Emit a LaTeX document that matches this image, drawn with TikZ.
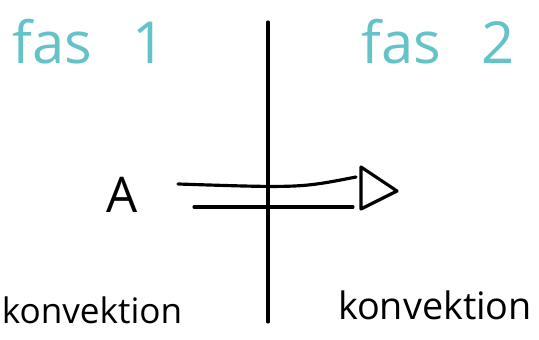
\documentclass[tikz,border=0pt]{standalone}
\usepackage{fontspec}
\setmainfont{Open Sans}
\usetikzlibrary{positioning}
\definecolor{phasecol}{RGB}{100,195,200}

\begin{document}
\begin{tikzpicture}[
  x=0.02cm, y=-0.02cm,
  pen/.style={line width=1.8pt,line cap=round,line join=round},
  phase/.style={text=phasecol,font=\fontsize{33}{35}\selectfont,inner sep=0pt},
  word/.style={font=\fontsize{20}{24}\selectfont,inner sep=0pt}
]
  \useasboundingbox (0,0) rectangle (539,340);

  \node[phase] (fas1) at (89,42) {fas\hspace{0.7em}1};
  \node[phase] (fas2) at (438,42) {fas\hspace{0.7em}2};
  \node[font=\fontsize{28}{30}\selectfont,inner sep=0pt] (A) at (122,195) {A};
  \node[word] (konv1) at (92,310) {konvektion};
  \node[word,font=\fontsize{21.5}{24}\selectfont] (konv2) at (435,305) {konvektion};

  % boundary between the phases
  \coordinate (top) at (268,22);
  \coordinate (bot) at (268,322);
  \draw[pen] (top) -- (bot);

  % arrow
  \coordinate (up1) at (178,184);
  \coordinate (up2) at (356,177);
  \coordinate (lo1) at (194,207);
  \coordinate (lo2) at (353,207);
  \coordinate (head1) at (361,167);
  \coordinate (tip) at (397,191);
  \coordinate (head2) at (361,209);
  \draw[pen] (up1) .. controls (300,188) .. (up2);
  \draw[pen] (lo1) -- (lo2);
  \draw[pen] (head1) -- (tip) -- (head2) -- cycle;
\end{tikzpicture}
\end{document}
